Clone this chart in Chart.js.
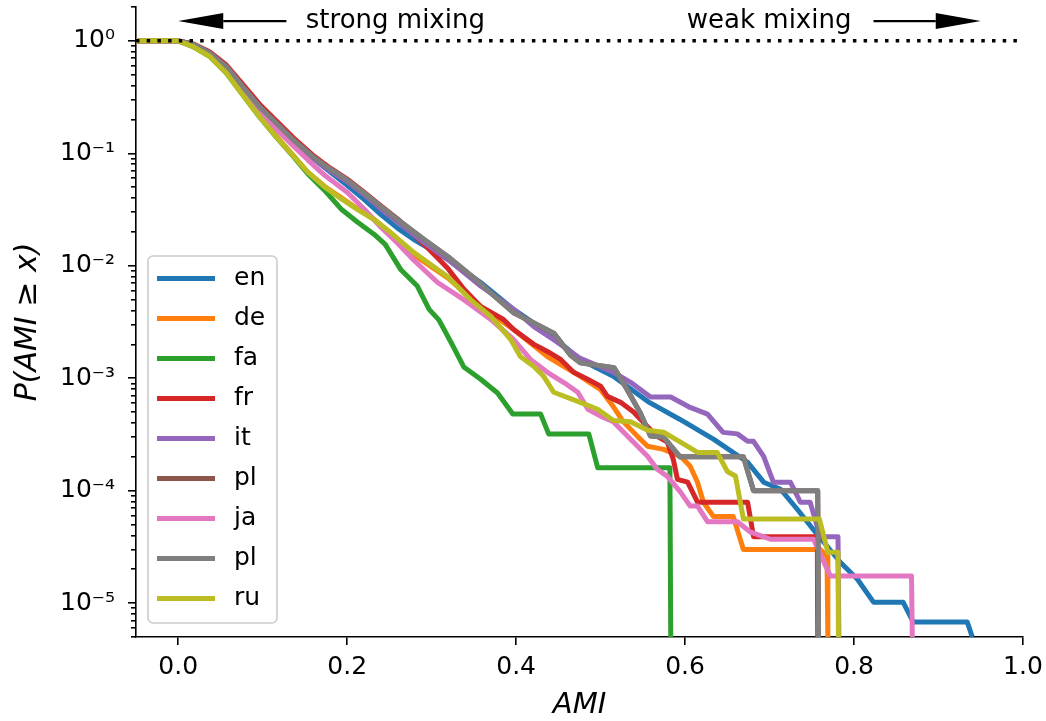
<!DOCTYPE html>
<html>
<head>
<meta charset="utf-8">
<title>AMI distribution</title>
<script src="https://cdn.jsdelivr.net/npm/chart.js@4.4.0/dist/chart.umd.min.js"></script>
<style>
  html, body { margin: 0; padding: 0; background: #fff; }
  #wrap { width: 1046px; height: 721px; }
</style>
</head>
<body>
<div id="wrap"><canvas id="amiChart" width="1046" height="721"></canvas></div>
<script>
// languages in legend order (two "pl" entries, as in the original figure)
const languages = ['en', 'de', 'fa', 'fr', 'it', 'pl', 'ja', 'pl', 'ru'];
const lineColors = ['#1f77b4', '#ff7f0e', '#2ca02c', '#d62728', '#9467bd', '#8c564b', '#e377c2', '#7f7f7f', '#bcbd22'];

// [AMI, P(AMI >= x)]
const en = [[-0.05, 1], [0, 1], [0.018, 0.93], [0.037, 0.78], [0.057, 0.59], [0.0765, 0.39], [0.096, 0.26], [0.116, 0.185], [0.136, 0.131], [0.16, 0.09], [0.18, 0.068], [0.2, 0.052], [0.22, 0.039], [0.24, 0.0285], [0.26, 0.0215], [0.279, 0.0171], [0.319, 0.0114], [0.358, 0.0071], [0.397, 0.0041], [0.437, 0.00255], [0.476, 0.00147], [0.515, 0.00104], [0.556, 0.00062], [0.594, 0.00043], [0.634, 0.000286], [0.674, 0.000179], [0.693, 0.000119], [0.713, 0.000103], [0.733, 6.8e-5], [0.752, 4.5e-5], [0.784, 2.3e-5], [0.804, 1.63e-5], [0.823, 1.02e-5], [0.858, 1.02e-5], [0.870, 6.8e-6], [0.934, 6.8e-6], [0.94, 5e-6]];
const de = [[-0.05, 1], [0, 1], [0.0174, 0.9], [0.037, 0.74], [0.0567, 0.53], [0.0765, 0.335], [0.096, 0.215], [0.1158, 0.143], [0.1356, 0.097], [0.1533, 0.068], [0.173, 0.051], [0.1927, 0.0405], [0.2124, 0.032], [0.232, 0.0258], [0.2518, 0.0195], [0.279, 0.0125], [0.319, 0.0078], [0.358, 0.00435], [0.397, 0.00271], [0.437, 0.00156], [0.476, 0.00104], [0.5, 0.00079], [0.515, 0.00056], [0.527, 0.00041], [0.5437, 0.000304], [0.5556, 0.000248], [0.5745, 0.000233], [0.5946, 0.000202], [0.606, 0.000165], [0.6147, 0.000119], [0.6217, 7.9e-5], [0.6336, 5.9e-5], [0.657, 5.9e-5], [0.669, 3.0e-5], [0.76, 3.0e-5], [0.768, 2.6e-5], [0.769, 5e-6]];
const fa = [[-0.05, 1], [0, 1], [0.0174, 0.89], [0.037, 0.73], [0.0567, 0.52], [0.0765, 0.33], [0.096, 0.212], [0.1158, 0.14], [0.1356, 0.095], [0.1533, 0.066], [0.173, 0.047], [0.1927, 0.032], [0.212, 0.0245], [0.232, 0.019], [0.245, 0.0155], [0.2636, 0.0092], [0.283, 0.0066], [0.297, 0.0041], [0.3085, 0.0033], [0.3227, 0.0021], [0.338, 0.00126], [0.358, 0.00098], [0.378, 0.00074], [0.396, 0.00048], [0.429, 0.00048], [0.4385, 0.00032], [0.486, 0.00032], [0.4965, 0.00016], [0.582, 0.00016], [0.583, 5e-6]];
const fr = [[-0.05, 1], [0, 1], [0.018, 0.94], [0.037, 0.8], [0.057, 0.61], [0.0765, 0.41], [0.096, 0.275], [0.116, 0.195], [0.136, 0.138], [0.161, 0.094], [0.181, 0.073], [0.2, 0.059], [0.22, 0.045], [0.24, 0.034], [0.26, 0.026], [0.291, 0.0155], [0.319, 0.0095], [0.338, 0.0062], [0.358, 0.00435], [0.385, 0.00333], [0.397, 0.00271], [0.421, 0.002], [0.437, 0.00173], [0.4527, 0.00147], [0.468, 0.00113], [0.4846, 0.00098], [0.5, 0.00085], [0.508, 0.00069], [0.5236, 0.00061], [0.539, 0.0005], [0.5556, 0.00037], [0.567, 0.000304], [0.579, 0.00027], [0.586, 0.00019], [0.591, 0.000126], [0.603, 0.000119], [0.6147, 7.9e-5], [0.674, 7.9e-5], [0.681, 3.9e-5], [0.7565, 3.9e-5], [0.757, 5e-6]];
const it = [[-0.05, 1], [0, 1], [0.018, 0.93], [0.037, 0.78], [0.057, 0.59], [0.0765, 0.39], [0.096, 0.26], [0.116, 0.184], [0.136, 0.13], [0.161, 0.089], [0.181, 0.069], [0.2, 0.056], [0.22, 0.043], [0.24, 0.032], [0.2518, 0.0272], [0.291, 0.0161], [0.319, 0.0114], [0.358, 0.0066], [0.397, 0.0041], [0.421, 0.00288], [0.444, 0.00221], [0.476, 0.0015], [0.515, 0.00113], [0.5355, 0.00092], [0.559, 0.00068], [0.583, 0.00068], [0.606, 0.00055], [0.6265, 0.00048], [0.645, 0.00033], [0.662, 0.00032], [0.674, 0.000275], [0.681, 0.000275], [0.693, 0.000202], [0.7045, 0.000119], [0.7246, 0.000119], [0.7364, 7.9e-5], [0.748, 7.9e-5], [0.76, 3.9e-5], [0.781, 3.9e-5], [0.782, 5e-6]];
const ja = [[-0.05, 1], [0, 1], [0.018, 0.91], [0.037, 0.76], [0.057, 0.56], [0.0765, 0.37], [0.096, 0.24], [0.116, 0.165], [0.136, 0.117], [0.153, 0.088], [0.173, 0.064], [0.2, 0.045], [0.22, 0.032], [0.24, 0.022], [0.26, 0.0158], [0.279, 0.0112], [0.307, 0.0071], [0.338, 0.005], [0.37, 0.00333], [0.397, 0.00221], [0.417, 0.00147], [0.437, 0.00113], [0.456, 0.00092], [0.473, 0.00075], [0.485, 0.00053], [0.5, 0.00046], [0.515, 0.00041], [0.5355, 0.000286], [0.5556, 0.000202], [0.567, 0.000155], [0.579, 0.000134], [0.5946, 9.7e-5], [0.606, 7.3e-5], [0.6147, 7.3e-5], [0.6265, 5.3e-5], [0.662, 5.3e-5], [0.669, 4.8e-5], [0.677, 4.3e-5], [0.701, 3.7e-5], [0.752, 3.7e-5], [0.772, 1.74e-5], [0.868, 1.74e-5], [0.869, 5e-6]];
const pl = [[-0.05, 1], [0, 1], [0.018, 0.93], [0.037, 0.78], [0.057, 0.59], [0.0765, 0.39], [0.096, 0.26], [0.116, 0.186], [0.136, 0.132], [0.161, 0.091], [0.181, 0.0715], [0.2, 0.058], [0.22, 0.0444], [0.24, 0.0336], [0.26, 0.0257], [0.291, 0.0171], [0.319, 0.0121], [0.35, 0.0078], [0.374, 0.0054], [0.3975, 0.0038], [0.421, 0.0031], [0.445, 0.0025], [0.457, 0.0019], [0.4645, 0.0016], [0.476, 0.00137], [0.516, 0.00124], [0.5315, 0.00079], [0.547, 0.00049], [0.559, 0.000306], [0.5745, 0.0003], [0.594, 0.0002], [0.669, 0.0002], [0.681, 0.0001], [0.757, 0.0001], [0.758, 5e-6]];
const ru = [[-0.05, 1], [0, 1], [0.0174, 0.89], [0.037, 0.73], [0.0567, 0.52], [0.0765, 0.33], [0.096, 0.213], [0.1158, 0.141], [0.1356, 0.096], [0.1533, 0.068], [0.173, 0.0505], [0.1927, 0.0395], [0.2124, 0.0316], [0.232, 0.0257], [0.2518, 0.0196], [0.279, 0.0131], [0.319, 0.008], [0.346, 0.005], [0.37, 0.00355], [0.3936, 0.00221], [0.405, 0.00156], [0.421, 0.00127], [0.4326, 0.00104], [0.4444, 0.00075], [0.476, 0.00061], [0.4965, 0.00053], [0.515, 0.00042], [0.5355, 0.00041], [0.5556, 0.000344], [0.5745, 0.000331], [0.5946, 0.00027], [0.6147, 0.000219], [0.638, 0.000219], [0.65, 0.000148], [0.6596, 0.000135], [0.669, 5.6e-5], [0.759, 5.6e-5], [0.769, 2.84e-5], [0.781, 2.84e-5], [0.7815, 5e-6]];

// the brown and the grey "pl" lines lie on top of each other
const seriesData = [en, de, fa, fr, it, pl, ja, pl, ru];

const xMin = -0.05, xMax = 1.0;
const yMin = 5e-6, yMax = 2;
const xTickValues = [0, 0.2, 0.4, 0.6, 0.8, 1.0];
const xTickLabels = ['0.0', '0.2', '0.4', '0.6', '0.8', '1.0'];
const yTickValues = [1e-5, 1e-4, 1e-3, 1e-2, 1e-1, 1];
const yTickLabels = ['10⁻⁵', '10⁻⁴', '10⁻³', '10⁻²', '10⁻¹', '10⁰'];

const yMinorTicks = [];
for (let e = -6; e <= 0; e++) {
  for (let m = 2; m <= 9; m++) {
    const v = m * Math.pow(10, e);
    if (v >= yMin * 0.999 && v <= yMax * 1.001) yMinorTicks.push(v);
  }
}

// annotations above the top line
const noteTexts = ['strong mixing', 'weak mixing'];
const noteTextX = [0.151, 0.602];
const noteTextY = 1.3;
const arrowSpans = [[0.128, 0.0], [0.823, 0.95]];
const arrowLevel = 1.5;

const font = "'DejaVu Sans', sans-serif";
Chart.defaults.font.family = font;
Chart.defaults.color = '#000';

const lineW = 5;

const datasets = seriesData.map((pts, i) => ({
  label: languages[i],
  data: pts.map(([x, y]) => ({ x, y })),
  borderColor: lineColors[i],
  backgroundColor: lineColors[i],
  borderWidth: lineW,
  borderJoinStyle: 'round',
  pointRadius: 0,
  tension: 0,
  fill: false,
  clip: 0,
  order: seriesData.length - i
}));
datasets.push({
  label: '',
  data: [{ x: xMin, y: 1 }, { x: xMax, y: 1 }],
  borderColor: '#000',
  borderWidth: 3.5,
  borderDash: [3.5, 7.2],
  pointRadius: 0,
  fill: false,
  clip: 0,
  order: 0
});

const notesPlugin = {
  id: 'notes',
  afterDraw(chart) {
    const { ctx, chartArea, scales } = chart;
    const xs = scales.x, ys = scales.y;
    ctx.save();
    ctx.fillStyle = '#000';
    ctx.strokeStyle = '#000';

    // text
    ctx.font = '26px ' + font;
    ctx.textBaseline = 'alphabetic';
    ctx.textAlign = 'left';
    noteTexts.forEach((t, i) => {
      ctx.fillText(t, xs.getPixelForValue(noteTextX[i]), ys.getPixelForValue(noteTextY));
    });

    // arrows
    const py = ys.getPixelForValue(arrowLevel);
    arrowSpans.forEach(([from, to]) => {
      const x0 = xs.getPixelForValue(from);
      const x1 = xs.getPixelForValue(to);
      const dir = Math.sign(x1 - x0);
      const hx = x1 - dir * 45;
      ctx.lineWidth = 2.2;
      ctx.beginPath();
      ctx.moveTo(x0, py);
      ctx.lineTo(hx, py);
      ctx.stroke();
      ctx.beginPath();
      ctx.moveTo(x1, py);
      ctx.lineTo(hx, py - 8);
      ctx.lineTo(hx, py + 8);
      ctx.closePath();
      ctx.fill();
    });

    // legend, lower left
    const lw = 129, lh = 367, r = 5;
    const lx = chartArea.left + 12;
    const ly = chartArea.bottom - 14 - lh;
    ctx.beginPath();
    ctx.moveTo(lx + r, ly);
    ctx.arcTo(lx + lw, ly, lx + lw, ly + lh, r);
    ctx.arcTo(lx + lw, ly + lh, lx, ly + lh, r);
    ctx.arcTo(lx, ly + lh, lx, ly, r);
    ctx.arcTo(lx, ly, lx + lw, ly, r);
    ctx.closePath();
    ctx.fillStyle = 'rgba(255,255,255,0.8)';
    ctx.fill();
    ctx.strokeStyle = '#cccccc';
    ctx.lineWidth = 1.6;
    ctx.stroke();

    ctx.font = '25px ' + font;
    ctx.textBaseline = 'middle';
    languages.forEach((lab, i) => {
      const cy = ly + 22.6 + i * 40;
      ctx.strokeStyle = lineColors[i];
      ctx.lineWidth = lineW;
      ctx.beginPath();
      ctx.moveTo(lx + 9, cy);
      ctx.lineTo(lx + 67, cy);
      ctx.stroke();
      ctx.fillStyle = '#000';
      ctx.fillText(lab, lx + 86, cy);
    });
    ctx.restore();
  }
};

const axisGrid = (len) => ({
  drawOnChartArea: false,
  drawTicks: true,
  tickLength: len,
  color: '#000',
  lineWidth: 1.6
});

new Chart(document.getElementById('amiChart'), {
  type: 'line',
  data: { datasets },
  options: {
    responsive: false,
    animation: false,
    devicePixelRatio: 1,
    layout: { padding: { left: 0, right: 23, top: 7, bottom: 0 } },
    plugins: {
      legend: { display: false },
      tooltip: { enabled: false }
    },
    scales: {
      x: {
        type: 'linear',
        min: xMin,
        max: xMax,
        bounds: 'data',
        afterBuildTicks: (s) => { s.ticks = xTickValues.map(v => ({ value: v })); },
        afterFit: (s) => { s.height = 84; s.paddingLeft = 0; s.paddingRight = 0; },
        ticks: {
          autoSkip: false,
          maxRotation: 0,
          padding: 7,
          color: '#000',
          font: { size: 25 },
          callback: (v, i) => xTickLabels[i]
        },
        grid: axisGrid(8),
        border: { display: true, color: '#000', width: 1.6 },
        title: {
          display: true,
          text: 'AMI',
          color: '#000',
          font: { size: 29, style: 'italic', lineHeight: 1.1 },
          padding: { top: 0, bottom: 0 }
        }
      },
      y: {
        type: 'logarithmic',
        position: 'left',
        weight: 1,
        min: yMin,
        max: yMax,
        bounds: 'data',
        afterBuildTicks: (s) => { s.ticks = yTickValues.map(v => ({ value: v })); },
        afterFit: (s) => { s.width = 136; s.paddingTop = 0; s.paddingBottom = 0; },
        ticks: {
          autoSkip: false,
          padding: 13,
          color: '#000',
          font: { size: 25 },
          callback: (v, i) => yTickLabels[i]
        },
        grid: axisGrid(8),
        border: { display: true, color: '#000', width: 1.6 },
        title: {
          display: true,
          text: 'P(AMI ≥ x)',
          color: '#000',
          font: { size: 30, style: 'italic', lineHeight: 1.1 },
          padding: { top: 12, bottom: 0 }
        }
      },
      yMinor: {
        type: 'logarithmic',
        position: 'left',
        weight: 0,
        min: yMin,
        max: yMax,
        bounds: 'data',
        afterBuildTicks: (s) => { s.ticks = yMinorTicks.map(v => ({ value: v })); },
        afterFit: (s) => { s.width = 0; s.paddingTop = 0; s.paddingBottom = 0; },
        ticks: { autoSkip: false, callback: () => '' },
        grid: axisGrid(5),
        border: { display: false }
      }
    }
  },
  plugins: [notesPlugin]
});
</script>
</body>
</html>
